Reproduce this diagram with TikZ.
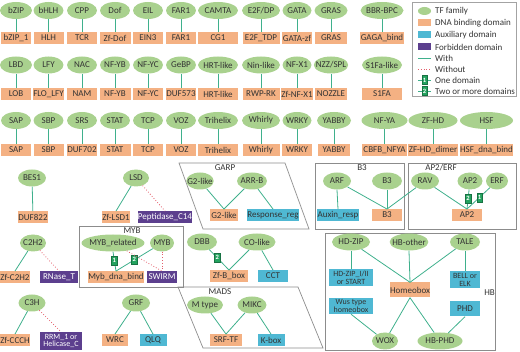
\documentclass[tikz,border=0pt]{standalone}
\usepackage{fontspec}
\setmainfont{Carlito}
\usetikzlibrary{shapes.geometric}
\definecolor{tfg}{HTML}{A9D18E}
\definecolor{dnao}{HTML}{F4B183}
\definecolor{auxc}{HTML}{4FB8D3}
\definecolor{forbp}{HTML}{5C3F8E}
\definecolor{lg}{HTML}{3FB08C}
\definecolor{lr}{HTML}{E35D6A}
\definecolor{tagg}{HTML}{23A35F}
\definecolor{frameg}{HTML}{8C8C8C}
\definecolor{txt}{HTML}{333333}
\newcommand\tfpair[8]{%
  \node[tf, minimum width=#7] (e#1) at (#2,#3) {#5};
  \node[dna, minimum width=#8] (b#1) at (#2,#4) {#6};
  \draw[withl] (e#1) -- (b#1);
}
\begin{document}
\begin{tikzpicture}[x=1pt,y=-1pt,
  every node/.style={font=\fontsize{9}{9.5}\selectfont, text=txt},
  tf/.style={ellipse, fill=tfg, minimum height=17, inner xsep=-3pt, inner ysep=0pt},
  dna/.style={rectangle, fill=dnao, minimum height=11.5, inner sep=0.3pt},
  aux/.style={dna, fill=auxc},
  forb/.style={dna, fill=forbp, text=white},
  two/.style={align=center, font=\fontsize{8}{7.8}\selectfont},
  withl/.style={draw=lg, line width=0.8pt},
  woutl/.style={draw=lr, dotted, line width=0.8pt},
  tag/.style={rectangle, fill=tagg, draw=tagg!70!black, line width=0.3pt, text=white, font=\fontsize{6.5}{6.5}\selectfont\bfseries, inner sep=0.3pt, minimum width=5.5, minimum height=9},
  frame/.style={draw=frameg, line width=0.7pt},
  flab/.style={inner sep=0pt}
]
\useasboundingbox (0,0) rectangle (520,352);

% ---------- Row 1 ----------
\tfpair{a1}{16}{10.5}{38}{bZIP}{bZIP\_1}{32}{30}
\tfpair{a2}{48.5}{10.5}{38}{bHLH}{HLH}{30}{30}
\tfpair{a3}{82}{10.5}{38}{CPP}{TCR}{30}{30}
\tfpair{a4}{115}{10.5}{38}{Dof}{Zf-Dof}{30}{31}
\tfpair{a5}{148}{10.5}{38}{EIL}{EIN3}{30}{30}
\tfpair{a6}{181}{10.5}{38}{FAR1}{FAR1}{30}{30}
\tfpair{a7}{218}{10.5}{38}{CAMTA}{CG1}{40}{40}
\tfpair{a8}{261}{10.5}{38}{E2F/DP}{E2F\_TDP}{38}{37}
\tfpair{a9}{297}{10.5}{38}{GATA}{GATA-zf}{29}{30}
\tfpair{a10}{331}{10.5}{38}{GRAS}{GRAS}{33}{32}
\tfpair{a11}{382}{10.5}{38}{BBR-BPC}{GAGA\_bind}{43}{44}

% ---------- Row 2 ----------
\tfpair{b1}{16}{65}{94}{LBD}{LOB}{32}{30}
\tfpair{b2}{48.5}{65}{94}{LFY}{FLO\_LFY}{30}{31}
\tfpair{b3}{82}{65}{94}{NAC}{NAM}{30}{30}
\tfpair{b4}{115}{65}{94}{NF-YB}{NF-YB}{30}{31}
\tfpair{b5}{148}{65}{94}{NF-YC}{NF-YC}{30}{30}
\tfpair{b6}{181}{65}{94}{GeBP}{DUF573}{30}{30}
\tfpair{b7}{218}{65}{94}{HRT-like}{HRT-like}{40}{40}
\tfpair{b8}{261}{65}{94}{Nin-like}{RWP-RK}{38}{37}
\tfpair{b9}{297}{65}{94}{NF-X1}{Zf-NF-X1}{29}{30}
\tfpair{b10}{331}{65}{94}{NZZ/SPL}{NOZZLE}{33}{32}
\tfpair{b11}{382}{65}{94}{S1Fa-like}{S1FA}{40}{40}

% ---------- Row 3 ----------
\tfpair{c1}{16}{120.5}{150}{SAP}{SAP}{30}{30}
\tfpair{c2}{48.5}{120.5}{150}{SBP}{SBP}{30}{30}
\tfpair{c3}{82}{120.5}{150}{SRS}{DUF702}{30}{30}
\tfpair{c4}{115}{120.5}{150}{STAT}{STAT}{30}{31}
\tfpair{c5}{148}{120.5}{150}{TCP}{TCP}{30}{30}
\tfpair{c6}{181}{120.5}{150}{VOZ}{VOZ}{30}{30}
\tfpair{c7}{218}{120.5}{150}{Trihelix}{Trihelix}{40}{40}
\tfpair{c8}{261}{120.5}{150}{Whirly}{Whirly}{38}{37}
\tfpair{c9}{297}{120.5}{150}{WRKY}{WRKY}{29}{30}
\tfpair{c10}{334}{120.5}{150}{YABBY}{YABBY}{34}{32}
\tfpair{c11}{384.5}{120.5}{150}{NF-YA}{CBFB\_NFYA}{46}{45}
\tfpair{c12}{433}{120.5}{150}{ZF-HD}{ZF-HD\_dimer}{49}{50}
\tfpair{c13}{486.5}{120.5}{150}{HSF}{HSF\_dna\_bind}{53}{53}

% ---------- Legend ----------
\draw[draw=frameg!80, line width=0.6pt] (412,2) rectangle (516,96);
\node[tf, minimum width=13, minimum height=8] (lgtf) at (424.5,11) {};
\node[anchor=west, inner sep=0pt] (lgtft) at (435,11) {TF family};
\node[dna, minimum width=13, minimum height=7] (lgdna) at (424.5,23) {};
\node[anchor=west, inner sep=0pt] (lgdnat) at (435,23) {DNA binding domain};
\node[aux, minimum width=13, minimum height=7] (lgaux) at (424.5,35) {};
\node[anchor=west, inner sep=0pt] (lgauxt) at (435,35) {Auxiliary domain};
\node[forb, minimum width=13, minimum height=7] (lgfor) at (424.5,47) {};
\node[anchor=west, inner sep=0pt] (lgfort) at (435,47) {Forbidden domain};
\coordinate (lw1) at (418,58); \coordinate (lw2) at (431,58);
\draw[withl] (lw1) -- (lw2);
\node[anchor=west, inner sep=0pt] (lgwt) at (435,58) {With};
\coordinate (lo1) at (418,69); \coordinate (lo2) at (431,69);
\draw[woutl] (lo1) -- (lo2);
\node[anchor=west, inner sep=0pt] (lgot) at (435,69) {Without};
\coordinate (l11) at (418,80); \coordinate (l12) at (431,80);
\draw[withl] (l11) -- (l12) node[tag, midway] {1};
\node[anchor=west, inner sep=0pt] (lg1t) at (435,80) {One domain};
\coordinate (l21) at (418,91); \coordinate (l22) at (431,91);
\draw[withl] (l21) -- (l22) node[tag, midway] {2};
\node[anchor=west, inner sep=0pt] (lg2t) at (435,91) {Two or more domains};

% ---------- BES1 ----------
\node[tf, minimum width=28] (bes) at (32,178) {BES1};
\node[dna, minimum width=30] (duf822) at (33,217) {DUF822};
\draw[withl] (bes) -- (duf822);

% ---------- LSD ----------
\node[tf, minimum width=26] (lsd) at (136,178) {LSD};
\node[dna, minimum width=28] (zflsd) at (116,217) {Zf-LSD1};
\node[forb, minimum width=52] (pep) at (165,217) {Peptidase\_C14};
\draw[withl] (lsd) -- (zflsd.north);
\draw[woutl] (lsd) -- (pep.north);

% ---------- C2H2 ----------
\node[tf, minimum width=26] (c2h2) at (33,243) {C2H2};
\node[dna, minimum width=30] (zfc2h2) at (15,277) {Zf-C2H2};
\node[forb, minimum width=38] (rnase) at (59,277) {RNase\_T};
\draw[withl] (c2h2) -- (zfc2h2.north);
\draw[woutl] (c2h2) -- (rnase.north);

% ---------- C3H ----------
\node[tf, minimum width=27] (c3h) at (32,303) {C3H};
\node[dna, minimum width=30] (zfccch) at (15,340) {Zf-CCCH};
\node[forb, two, minimum width=42, minimum height=18] (rrm) at (61,341) {RRM\_1 or\\Helicase\_C};
\draw[withl] (c3h) -- (zfccch.north);
\draw[woutl] (c3h) -- (rrm.north);

% ---------- MYB ----------
\draw[frame] (79,226) rectangle (183,287);
\node[flab] (myblab) at (132,230.5) {MYB};
\node[tf, minimum width=63] (mybrel) at (113,243) {MYB\_related};
\node[tf, minimum width=24] (myb) at (162,243) {MYB};
\node[dna, minimum width=55] (mybdna) at (116,277) {Myb\_dna\_bind};
\node[forb, minimum width=30] (swirm) at (162,277) {SWIRM};
\draw[withl] (mybrel.south) -- (mybdna.north) node[tag, pos=0.45] {1};
\draw[withl] (myb) -- (mybdna.north) node[tag, pos=0.5] {2};
\draw[woutl] (mybrel) -- (swirm.north);
\draw[woutl] (myb.south) -- (swirm.north);

% ---------- GRF ----------
\node[tf, minimum width=28] (grf) at (136,303) {GRF};
\node[dna, minimum width=26] (wrc) at (115,340) {WRC};
\node[aux, minimum width=27] (qlq) at (153,340) {QLQ};
\draw[withl] (grf) -- (wrc.north);
\draw[withl] (grf) -- (qlq.north);

% ---------- GARP ----------
\draw[frame] (179,163) -- (285,163) -- (309,229) -- (203,229) -- cycle;
\node[flab] (garplab) at (225,168) {GARP};
\node[tf, minimum width=26] (g2l) at (200,181) {G2-like};
\node[tf, minimum width=30] (arrb) at (252,181) {ARR-B};
\node[dna, minimum width=28] (g2box) at (224,215) {G2-like};
\node[aux, minimum width=51] (resp) at (273,215) {Response\_reg};
\draw[withl] (g2l) -- (g2box.north);
\draw[withl] (arrb) -- (g2box.north);
\draw[withl] (arrb) -- (resp.north);

% ---------- B3 ----------
\draw[frame] (315,163) rectangle (404,229);
\node[flab] (b3lab) at (362,168) {B3};
\node[tf, minimum width=28] (arf) at (337,181) {ARF};
\node[tf, minimum width=30] (b3e) at (387,181) {B3};
\node[aux, minimum width=40] (auxin) at (338,215) {Auxin\_resp};
\node[dna, minimum width=30] (b3box) at (387,215) {B3};
\draw[withl] (arf.south) -- (auxin.north);
\draw[withl] (arf) -- (b3box.north);
\draw[withl] (b3e) -- (b3box.north);

% ---------- AP2/ERF ----------
\draw[frame] (408,163) rectangle (516,229);
\node[flab] (aplab) at (441,168) {AP2/ERF};
\node[tf, minimum width=28] (rav) at (425,181) {RAV};
\node[tf, minimum width=25] (ap2) at (470,181) {AP2};
\node[tf, minimum width=22] (erf) at (497,181) {ERF};
\node[dna, minimum width=30] (ap2box) at (467,215) {AP2};
\draw[withl] (rav) -- (b3box.north);
\draw[withl] (rav) -- (ap2box.north);
\draw[withl] (ap2) -- (ap2box.north) node[tag, pos=0.45] {2};
\draw[withl] (erf) -- (ap2box.north) node[tag, pos=0.45] {1};

% ---------- DBB / CO-like ----------
\node[tf, minimum width=30] (dbb) at (202,242) {DBB};
\node[tf, minimum width=37] (colike) at (257,242) {CO-like};
\node[dna, minimum width=38] (zfbbox) at (229,276) {Zf-B\_box};
\node[aux, minimum width=30] (cct) at (273,276) {CCT};
\draw[withl] (dbb) -- (zfbbox.north) node[tag, pos=0.4] {2};
\draw[withl] (colike) -- (zfbbox.north);
\draw[withl] (colike) -- (cct.north);

% ---------- MADS ----------
\draw[frame] (178,287) -- (298,287) -- (323,348) -- (203,348) -- cycle;
\node[flab] (madslab) at (220,292) {MADS};
\node[tf, minimum width=36] (mtype) at (205,305) {M type};
\node[tf, minimum width=29] (mikc) at (252,305) {MIKC};
\node[dna, minimum width=32] (srf) at (226,340) {SRF-TF};
\node[aux, minimum width=27] (kbox) at (271,340) {K-box};
\draw[withl] (mtype) -- (srf.north);
\draw[withl] (mikc) -- (srf.north);
\draw[withl] (mikc) -- (kbox.north);

% ---------- HB ----------
\draw[frame] (325,233) rectangle (495,350);
\node[flab, anchor=east] (hblab) at (495,293) {HB};
\node[tf, minimum width=38] (hdzip) at (351,242) {HD-ZIP};
\node[tf, minimum width=32] (hbother) at (409,242) {HB-other};
\node[tf, minimum width=30] (tale) at (465,242) {TALE};
\node[aux, two, minimum width=44, minimum height=17] (hdzipbox) at (351,278) {HD-ZIP\_I/II\\or START};
\node[dna, minimum width=40, minimum height=15] (homeo) at (410,290) {Homeobox};
\node[aux, two, minimum width=30, minimum height=17] (bell) at (465,280) {BELL or\\ELK};
\node[aux, two, minimum width=44, minimum height=16] (wus) at (351,306) {Wus type\\homeobox};
\node[aux, minimum width=30, minimum height=15] (phd) at (465,309) {PHD};
\node[tf, minimum width=26] (wox) at (385,341) {WOX};
\node[tf, minimum width=45] (hbphd) at (440,341) {HB-PHD};
\draw[withl] (hdzip.south) -- (hdzipbox.north);
\draw[withl] (hdzip) -- (homeo.north);
\draw[withl] (hbother.south) -- (homeo.north);
\draw[withl] (tale) -- (homeo.north);
\draw[withl] (tale.south) -- (bell.north);
\draw[withl] (homeo.south) -- (wox);
\draw[withl] (homeo.south) -- (hbphd);
\draw[withl] (wus.south) -- (wox);
\draw[withl] (phd.south) -- (hbphd);
\end{tikzpicture}
\end{document}
